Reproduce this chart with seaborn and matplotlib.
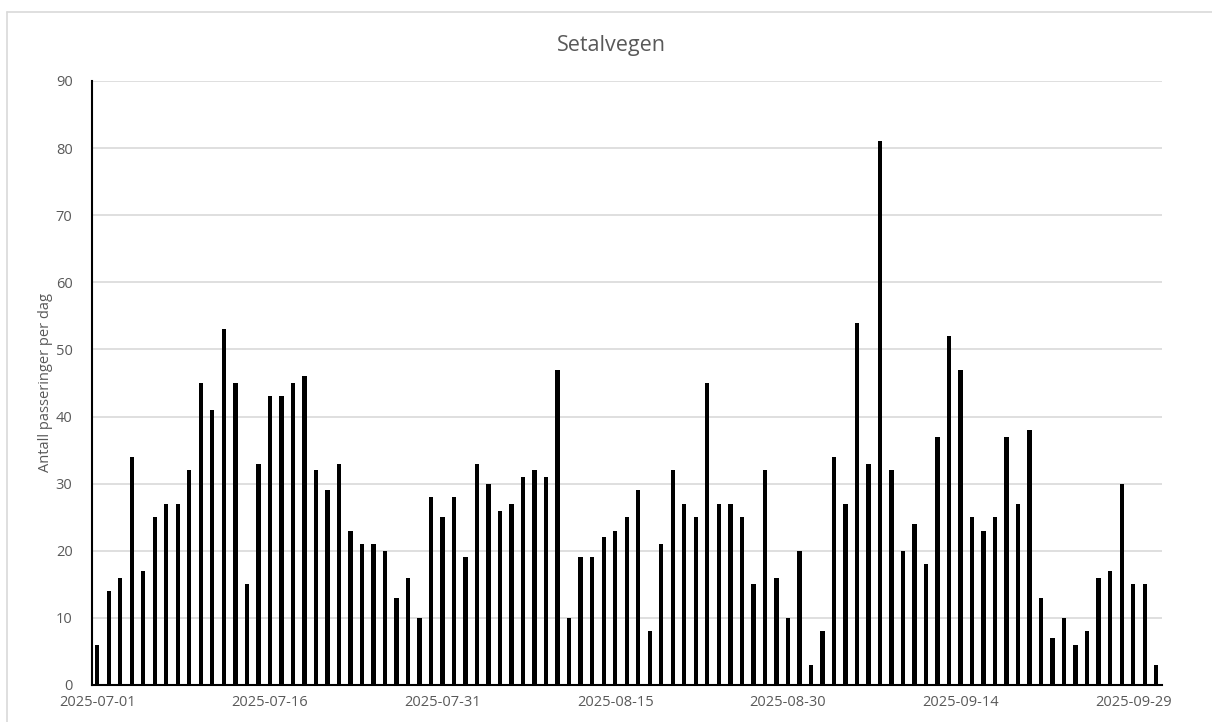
import pandas as pd
import seaborn as sns
import matplotlib.pyplot as plt
from matplotlib.lines import Line2D

# Daglige passeringer, 2025-07-01 .. 2025-10-01
datoer = pd.date_range("2025-07-01", "2025-10-01", freq="D").strftime("%Y-%m-%d").tolist()
passeringer = [
    6, 14, 16, 34, 17, 25, 27, 27, 32, 45, 41, 53, 45, 15, 33, 43, 43, 45, 46, 32,
    29, 33, 23, 21, 21, 20, 13, 16, 10, 28, 25, 28, 19, 33, 30, 26, 27, 31, 32, 31,
    47, 10, 19, 19, 22, 23, 25, 29, 8, 21, 32, 27, 25, 45, 27, 27, 25, 15, 32, 16,
    10, 20, 3, 8, 34, 27, 54, 33, 81, 32, 20, 24, 18, 37, 52, 47, 25, 23, 25, 37,
    27, 38, 13, 7, 10, 6, 8, 16, 17, 30, 15, 15, 3,
]
tittel = "Setalvegen"
y_etikett = "Antall passeringer per dag"
y_ticks = list(range(0, 91, 10))

df = pd.DataFrame({"dato": datoer, "antall": passeringer})

sns.set_style("white")
plt.rcParams["font.family"] = ["Open Sans", "DejaVu Sans"]
grå = "#595959"

fig = plt.figure(figsize=(12.12, 7.22), dpi=100)
ax = fig.add_axes([92 / 1212, 37 / 722, 1070 / 1212, 604 / 722])

sns.barplot(data=df, x="dato", y="antall", order=datoer, color="black",
            width=0.38, saturation=1, linewidth=0, ax=ax, zorder=3)

ax.set_xlim(-0.45, len(datoer) - 0.5)
ax.set_ylim(0, 90)
ax.set_yticks(y_ticks)
ax.yaxis.grid(True, color="#d9d9d9", linewidth=1.2, zorder=0)
ax.set_axisbelow(True)

tick_pos = list(range(0, len(datoer), 15))
ax.set_xticks(tick_pos)
ax.set_xticklabels([datoer[i] for i in tick_pos])
ax.tick_params(axis="both", length=0, labelsize=10.5, labelcolor=grå)
ax.tick_params(axis="x", pad=7)
ax.tick_params(axis="y", pad=14)

for side in ["top", "right"]:
    ax.spines[side].set_visible(False)
ax.spines["left"].set_color("black")
ax.spines["left"].set_linewidth(1.5)
ax.spines["bottom"].set_color("black")
ax.spines["bottom"].set_linewidth(1.5)

ax.set_xlabel("")
ax.set_ylabel(y_etikett, fontsize=10.5, color=grå, labelpad=2)
fig.text(611 / 1212, 1 - 45 / 722, tittel, ha="center", va="center",
         fontsize=15.5, color=grå)

# ramme rundt diagrammet (bare topp og venstre synlig)
fig.add_artist(Line2D([7 / 1212, 1], [1 - 11.5 / 722] * 2, transform=fig.transFigure,
                      color="#d9d9d9", linewidth=1.2))
fig.add_artist(Line2D([7 / 1212] * 2, [0, 1 - 11.5 / 722], transform=fig.transFigure,
                      color="#d9d9d9", linewidth=1.2))

fig.savefig("out.png", dpi=100, facecolor="white")
